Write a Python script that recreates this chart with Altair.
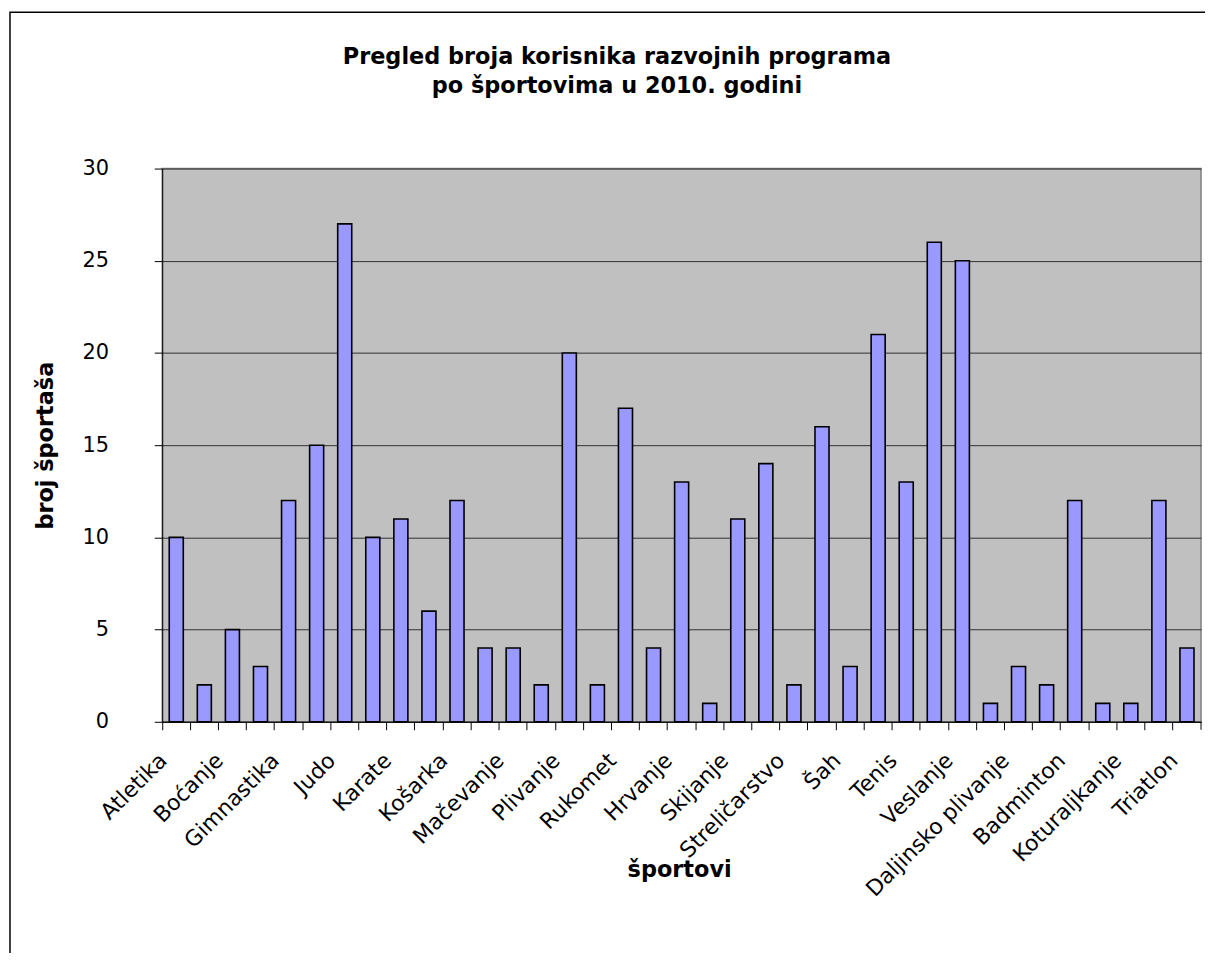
import altair as alt
import pandas as pd

# ---- data ----
sports = [
    "Atletika", "Biciklizam", "Boćanje", "Boks", "Gimnastika", "Hokej", "Judo",
    "Jedrenje", "Karate", "Kajak", "Košarka", "Kuglanje", "Mačevanje", "Nogomet",
    "Plivanje", "Odbojka", "Rukomet", "Ronjenje", "Hrvanje", "Sinkronizirano plivanje",
    "Skijanje", "Stolni tenis", "Streličarstvo", "Taekwondo", "Šah", "Vaterpolo",
    "Tenis", "Golf", "Veslanje", "Ragbi", "Daljinsko plivanje", "Squash",
    "Badminton", "Skokovi u vodu", "Koturaljkanje", "Kickboks", "Triatlon",
]
counts = [10, 2, 5, 3, 12, 15, 27, 10, 11, 6, 12, 4, 4, 2, 20, 2, 17, 4, 13, 1,
          11, 14, 2, 16, 3, 21, 13, 26, 25, 1, 3, 2, 12, 1, 1, 12, 4]
shown_labels = [
    "Atletika", "Boćanje", "Gimnastika", "Judo", "Karate", "Košarka", "Mačevanje",
    "Plivanje", "Rukomet", "Hrvanje", "Skijanje", "Streličarstvo", "Šah", "Tenis",
    "Veslanje", "Daljinsko plivanje", "Badminton", "Koturaljkanje", "Triatlon",
]
y_ticks = [0, 5, 10, 15, 20, 25, 30]
title_lines = ["Pregled broja korisnika razvojnih programa", "po športovima u 2010. godini"]
x_title = "športovi"
y_title = "broj športaša"

df = pd.DataFrame({"sport": sports, "count": counts})
one = pd.DataFrame({"k": [0]})

FONT = "DejaVu Sans"
BOLD_SIZE = 22.5
W, H = 1044, 556

label_expr = (
    "indexof([" + ",".join("'" + s + "'" for s in shown_labels) + "], datum.value) >= 0"
    " ? datum.value : ''"
)

bars = alt.Chart(df).mark_bar(
    width=alt.RelativeBandSize(0.5), fill="#9999FF", stroke="#000000", strokeWidth=1.6
).encode(
    x=alt.X(
        "sport:N", sort=sports,
        scale=alt.Scale(paddingInner=0, paddingOuter=0),
        axis=alt.Axis(
            title=None, bandPosition=0, tickSize=8, tickColor="#000000",
            domainColor="#000000", labelAngle=-45, labelAlign="right",
            labelBaseline="middle", labelFontSize=22, labelFont=FONT,
            labelColor="#000000", labelPadding=27, labelOffset=-13, labelExpr=label_expr,
            labelOverlap=False, labelBound=False, labelLimit=400,
        ),
    ),
    y=alt.Y(
        "count:Q",
        scale=alt.Scale(domain=[0, 30], nice=False),
        axis=alt.Axis(
            values=y_ticks, title=y_title, titleFont=FONT, titleFontSize=BOLD_SIZE,
            titleFontWeight="bold", titleColor="#000000", titleX=-117, titleY=H / 2,
            titleAngle=-90, titleAlign="center", titleBaseline="middle",
            labelFont=FONT, labelFontSize=21, labelColor="#000000", labelPadding=46,
            tickSize=8, tickColor="#000000", domainColor="#000000",
            grid=True, gridColor="#303030", gridWidth=1,
        ),
    ),
)

end_tick = alt.Chart(one).mark_rule(color="#000000").encode(
    x=alt.value(W), y=alt.value(H), y2=alt.value(H + 8)
)

border = alt.Chart(one).mark_rect(fill=None, stroke="#000000", strokeWidth=1.5).encode(
    x=alt.value(-153), x2=alt.value(1100), y=alt.value(-157), y2=alt.value(900)
)

def text_layer(txt, px, py):
    return alt.Chart(one).mark_text(
        text=txt, font=FONT, fontSize=BOLD_SIZE, fontWeight="bold", color="#000000",
        align="center", baseline="middle",
    ).encode(x=alt.value(px), y=alt.value(py))

t1 = text_layer(title_lines[0], 457, 55 - 167)
t2 = text_layer(title_lines[1], 457, 84 - 167)
xt = text_layer(x_title, 520, 872 - 167)

chart = alt.layer(border, bars, end_tick, t1, t2, xt).properties(
    width=W, height=H,
    autosize=alt.AutoSizeParams(type="none"),
    padding={"left": 155, "top": 159, "right": 4, "bottom": 230},
    background="#FFFFFF",
).configure_view(
    fill="#C0C0C0", stroke="#808080", strokeWidth=1.5
)

chart.save("out.html", embed_options={"renderer": "svg", "actions": False})
